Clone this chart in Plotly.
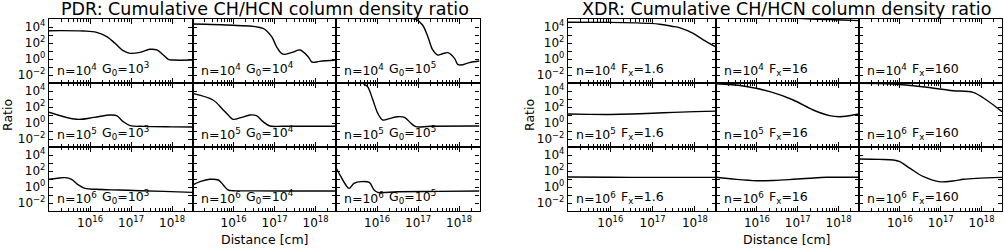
import numpy as np
import plotly.graph_objects as go

# ---------------- data (log10 of distance [cm], log10 of ratio) ----------------
# PDR grid
pdr_n4_g3_logd = [15.0, 15.84, 16.16, 16.41, 16.61, 16.81, 16.98, 17.22, 17.46, 17.63, 17.79, 17.91, 18.03, 18.5]
pdr_n4_g3_logr = [3.54, 3.5, 3.33, 2.8, 1.96, 1.04, 0.71, 0.83, 1.21, 1.13, 0.5, -0.04, -0.13, -0.13]
pdr_n4_g4_logd = [15.0, 15.99, 16.72, 16.93, 17.05, 17.17, 17.25, 17.45, 17.62, 17.82, 17.90, 17.94, 18.1, 18.5]
pdr_n4_g4_logr = [4.37, 4.21, 3.83, 2.79, 1.54, 0.71, 0.58, 0.85, 1.13, 0.29, -0.33, -0.42, -0.3, -0.13]
pdr_n4_g5_logd = [15.0, 16.6, 16.95, 17.11, 17.24, 17.36, 17.48, 17.6, 17.73, 17.89, 17.97, 18.05, 18.25, 18.5]
pdr_n4_g5_logr = [5.6, 5.2, 4.95, 4.25, 2.79, 1.13, 0.5, 0.65, 0.79, 0.08, -0.67, -0.75, -0.45, -0.25]

pdr_n5_g3_logd = [15.0, 15.68, 16.1, 16.49, 16.65, 16.81, 16.98, 17.3, 18.0, 18.5]
pdr_n5_g3_logr = [1.35, 0.46, 0.7, 1.0, 0.92, 0.17, -0.33, -0.42, -0.48, -0.5]
pdr_n5_g4_logd = [15.0, 15.5, 15.75, 15.91, 15.99, 16.2, 16.4, 16.56, 16.72, 16.89, 17.2, 18.5]
pdr_n5_g4_logr = [3.71, 2.875, 1.63, 0.79, 0.46, 0.7, 1.0, 0.92, 0.17, -0.375, -0.4, -0.4]
pdr_n5_g5_logd = [15.0, 15.5, 15.65, 15.77, 15.9, 16.02, 16.14, 16.3, 16.5, 16.67, 16.83, 16.95, 17.3, 18.5]
pdr_n5_g5_logr = [7.0, 6.0, 5.0, 4.54, 2.875, 1.21, 0.375, 0.55, 0.79, 0.71, -0.04, -0.46, -0.4, -0.375]

pdr_n6_g3_logd = [15.0, 15.2, 15.39, 15.55, 15.72, 15.88, 16.16, 16.7, 17.22, 17.8, 18.5]
pdr_n6_g3_logr = [0.96, 1.1, 1.17, 0.96, 0.25, -0.17, -0.29, -0.38, -0.46, -0.55, -0.67]
pdr_n6_g4_logd = [15.0, 15.2, 15.42, 15.63, 15.75, 15.87, 15.99, 16.5, 17.5, 18.5]
pdr_n6_g4_logr = [0.25, 0.7, 0.96, 0.875, 0.25, -0.375, -0.46, -0.48, -0.5, -0.5]
pdr_n6_g5_logd = [15.0, 15.12, 15.24, 15.32, 15.44, 15.61, 15.81, 15.93, 16.02, 16.5, 17.5, 18.5]
pdr_n6_g5_logr = [2.4, 1.29, 0.25, -0.17, 0.46, 0.67, 0.58, -0.375, -0.67, -0.6, -0.55, -0.5]

# XDR grid
xdr_r1c1_logd = [15.0, 16.0, 16.6, 16.95, 17.17, 17.45, 17.65, 17.96, 18.2, 18.5]
xdr_r1c1_logr = [4.6, 4.58, 4.52, 4.45, 4.35, 4.1, 3.9, 3.2, 2.4, 1.5]
xdr_r1c2_logd = [15.0, 16.0, 16.8, 17.2, 17.5, 17.8, 18.1, 18.5]
xdr_r1c2_logr = [5.6, 5.4, 5.15, 5.02, 4.96, 4.92, 4.88, 4.8]
xdr_r1c3_logd = [15.0, 16.0, 17.0, 18.0, 18.5]
xdr_r1c3_logr = [5.9, 5.85, 5.75, 5.6, 5.5]

xdr_r2c1_logd = [15.0, 15.5, 16.0, 16.5, 17.0, 17.5, 18.0, 18.5]
xdr_r2c1_logr = [1.12, 1.08, 1.07, 1.12, 1.22, 1.33, 1.42, 1.48]
xdr_r2c2_logd = [15.0, 15.67, 16.32, 16.89, 17.38, 17.78, 18.02, 18.25, 18.5]
xdr_r2c2_logr = [4.9, 4.625, 3.92, 2.875, 1.625, 0.92, 0.79, 0.9, 1.125]
xdr_r2c3_logd = [15.0, 15.84, 16.66, 17.3, 17.79, 18.12, 18.5]
xdr_r2c3_logr = [4.96, 4.875, 4.46, 4.04, 3.83, 2.875, 1.41]

xdr_r3c1_logd = [15.0, 16.0, 17.0, 18.0, 18.5]
xdr_r3c1_logr = [1.25, 1.22, 1.2, 1.2, 1.2]
xdr_r3c2_logd = [15.0, 15.5, 15.99, 16.4, 16.89, 17.3, 17.7, 18.1, 18.5]
xdr_r3c2_logr = [1.21, 0.95, 0.79, 0.82, 0.96, 1.1, 1.21, 1.22, 1.21]
xdr_r3c3_logd = [15.0, 15.5, 15.84, 16.0, 16.25, 16.58, 16.95, 17.3, 17.56, 17.87, 18.5]
xdr_r3c3_logr = [3.5, 3.45, 3.375, 3.17, 2.33, 1.29, 0.67, 0.75, 0.96, 1.08, 1.2]

# panel labels
pdr_density_labels = ["n=10<sup>4</sup>", "n=10<sup>5</sup>", "n=10<sup>6</sup>"]
pdr_field_labels = ["G<sub>0</sub>=10<sup>3</sup>", "G<sub>0</sub>=10<sup>4</sup>", "G<sub>0</sub>=10<sup>5</sup>"]
xdr_density_labels = [["n=10<sup>4</sup>", "n=10<sup>4</sup>", "n=10<sup>4</sup>"],
                      ["n=10<sup>5</sup>", "n=10<sup>5</sup>", "n=10<sup>6</sup>"],
                      ["n=10<sup>6</sup>", "n=10<sup>6</sup>", "n=10<sup>6</sup>"]]
xdr_field_labels = ["F<sub>x</sub>=1.6", "F<sub>x</sub>=16", "F<sub>x</sub>=160"]

x_tick_vals = [1e16, 1e17, 1e18]
x_tick_text = ["10<sup>16</sup>", "10<sup>17</sup>", "10<sup>18</sup>"]
y_tick_vals = [1e-2, 1e0, 1e2, 1e4]
y_tick_text = ["10<sup>\u22122</sup>", "10<sup>0</sup>", "10<sup>2</sup>", "10<sup>4</sup>"]
y_minor_vals = [1e-1, 1e1, 1e3]
x_minor_vals = [m * 10.0 ** e for e in range(15, 19) for m in range(2, 10)]

# ---------------- layout geometry (pixels) ----------------
W, H = 1004, 248
pdr_cols = [49, 192.5, 336, 479.5]
xdr_cols = [568, 716, 859, 1002]
rows = [19, 83, 147, 211]
FONT = "DejaVu Sans"

pdr_data = [[(pdr_n4_g3_logd, pdr_n4_g3_logr), (pdr_n4_g4_logd, pdr_n4_g4_logr), (pdr_n4_g5_logd, pdr_n4_g5_logr)],
            [(pdr_n5_g3_logd, pdr_n5_g3_logr), (pdr_n5_g4_logd, pdr_n5_g4_logr), (pdr_n5_g5_logd, pdr_n5_g5_logr)],
            [(pdr_n6_g3_logd, pdr_n6_g3_logr), (pdr_n6_g4_logd, pdr_n6_g4_logr), (pdr_n6_g5_logd, pdr_n6_g5_logr)]]
xdr_data = [[(xdr_r1c1_logd, xdr_r1c1_logr), (xdr_r1c2_logd, xdr_r1c2_logr), (xdr_r1c3_logd, xdr_r1c3_logr)],
            [(xdr_r2c1_logd, xdr_r2c1_logr), (xdr_r2c2_logd, xdr_r2c2_logr), (xdr_r2c3_logd, xdr_r2c3_logr)],
            [(xdr_r3c1_logd, xdr_r3c1_logr), (xdr_r3c2_logd, xdr_r3c2_logr), (xdr_r3c3_logd, xdr_r3c3_logr)]]

fig = go.Figure()
layout = {}
annotations = []
idx = 0
for grid, cols, data in (("pdr", pdr_cols, pdr_data), ("xdr", xdr_cols, xdr_data)):
    for r in range(3):
        for c in range(3):
            idx += 1
            sfx = "" if idx == 1 else str(idx)
            logd, logr = data[r][c]
            fig.add_trace(go.Scatter(
                x=np.power(10.0, logd), y=np.power(10.0, logr),
                mode="lines", line=dict(color="black", width=1.4, shape="spline", smoothing=1.0),
                xaxis="x" + sfx, yaxis="y" + sfx, showlegend=False, hoverinfo="skip"))
            left, right = cols[c], cols[c + 1]
            top, bottom = rows[r], rows[r + 1]
            layout["xaxis" + sfx] = dict(
                type="log", range=[15, 18.5], domain=[left / W, right / W], anchor="y" + sfx,
                showline=True, linecolor="black", linewidth=1.4, mirror="allticks",
                ticks="inside", ticklen=5, tickwidth=1, tickcolor="black",
                tickmode="array", tickvals=x_tick_vals, ticktext=x_tick_text,
                showticklabels=(r == 2),
                tickfont=dict(family=FONT, size=12, color="black"),
                minor=dict(tickmode="array", tickvals=x_minor_vals, ticks="inside", ticklen=2.5,
                           tickwidth=1, tickcolor="black", showgrid=False),
                showgrid=False, zeroline=False, fixedrange=True)
            layout["yaxis" + sfx] = dict(
                type="log", range=[-3, 5], domain=[1 - bottom / H, 1 - top / H], anchor="x" + sfx,
                showline=True, linecolor="black", linewidth=1.4, mirror="allticks",
                ticks="inside", ticklen=4, tickwidth=1, tickcolor="black",
                tickmode="array", tickvals=y_tick_vals, ticktext=y_tick_text,
                showticklabels=(c == 0), tickfont=dict(family=FONT, size=12, color="black"),
                minor=dict(tickmode="array", tickvals=y_minor_vals, ticks="inside", ticklen=4,
                           tickwidth=1, tickcolor="black", showgrid=False),
                showgrid=False, zeroline=False, fixedrange=True)
            if grid == "pdr":
                lab1, lab2 = pdr_density_labels[r], pdr_field_labels[c]
            else:
                lab1, lab2 = xdr_density_labels[r][c], xdr_field_labels[c]
            for txt, off in ((lab1, 6), (lab2, 51)):
                annotations.append(dict(
                    text=txt, x=(left + off) / W, y=1 - (bottom - 3) / H, xref="paper", yref="paper",
                    xanchor="left", yanchor="bottom", showarrow=False,
                    font=dict(family=FONT, size=12.5, color="black")))

# titles and axis titles
for cx, title in ((265, "PDR: Cumulative CH/HCN column density ratio"),
                  (786, "XDR: Cumulative CH/HCN column density ratio")):
    annotations.append(dict(text=title, x=cx / W, y=1 - 8.5 / H, xref="paper", yref="paper",
                            xanchor="center", yanchor="middle", showarrow=False,
                            font=dict(family=FONT, size=17.5, color="black")))
for cx in (264, 786):
    annotations.append(dict(text="Distance [cm]", x=cx / W, y=1 - 239 / H, xref="paper", yref="paper",
                            xanchor="center", yanchor="middle", showarrow=False,
                            font=dict(family=FONT, size=12.5, color="black")))
for cx in (8, 530):
    annotations.append(dict(text="Ratio", x=cx / W, y=1 - 115 / H, xref="paper", yref="paper",
                            xanchor="center", yanchor="middle", showarrow=False, textangle=-90,
                            font=dict(family=FONT, size=12.5, color="black")))

fig.update_layout(**layout)
fig.update_layout(width=W, height=H, autosize=False, margin=dict(l=0, r=0, t=0, b=0),
                  paper_bgcolor="white", plot_bgcolor="white", annotations=annotations,
                  font=dict(family=FONT, color="black"))
fig.write_html("out.html", config={"displayModeBar": False},
               post_script="document.body.style.margin='0';document.body.style.overflow='hidden';")
